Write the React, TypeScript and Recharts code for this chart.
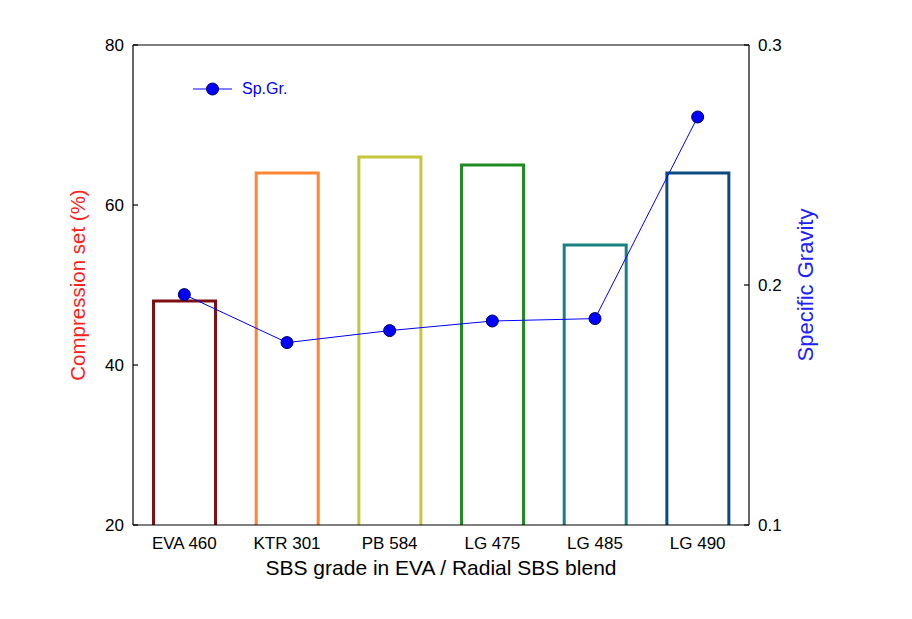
import React from 'react';
import { ComposedChart, Bar, Line, XAxis, YAxis, ReferenceLine, Label } from 'recharts';

const categories = ['EVA 460', 'KTR 301', 'PB 584', 'LG 475', 'LG 485', 'LG 490'];
const compressionSet = [48, 64, 66, 65, 55, 64];
const specificGravity = [0.196, 0.176, 0.181, 0.185, 0.186, 0.27];
const leftTicks = [20, 40, 60, 80];
const rightTicks = [0.1, 0.2, 0.3];

const barColors = ['#7d0f12', '#ff8533', '#c6c53c', '#1e8c22', '#1a8080', '#0d4a82'];

const data = categories.map((name, i) => ({
    name,
    cs: compressionSet[i],
    sg: specificGravity[i],
}));

const FONT = '"Liberation Sans", Arial, sans-serif';

const OpenBar = (props: any) => {
    const { x, y, width, height, index } = props;
    const color = barColors[index] ?? '#000';
    return (
        <path
            d={`M${x},${y + height} L${x},${y} L${x + width},${y} L${x + width},${y + height}`}
            fill="none"
            stroke={color}
            strokeWidth={3}
        />
    );
};

// ticks point inward, so draw the tick line ourselves
const LeftTick = (props: any) => {
    const { x, y, payload } = props;
    return (
        <g>
            <line x1={x + 9} y1={y} x2={x + 14} y2={y} stroke="#000" strokeWidth={1.2} />
            <text x={x} y={y} dy={6} textAnchor="end" fontSize={17} fontFamily={FONT} fill="#000">
                {payload.value}
            </text>
        </g>
    );
};

const RightTick = (props: any) => {
    const { x, y, payload } = props;
    return (
        <g>
            <line x1={x - 9} y1={y} x2={x - 14} y2={y} stroke="#000" strokeWidth={1.2} />
            <text x={x} y={y} dy={6} textAnchor="start" fontSize={17} fontFamily={FONT} fill="#000">
                {payload.value}
            </text>
        </g>
    );
};

const App = () => {
    return (
        <div style={{ position: 'absolute', left: 0, top: 0, width: 912, height: 619, background: '#fff' }}>
            <ComposedChart
                width={912}
                height={619}
                data={data}
                margin={{ top: 45, right: 51, left: 23, bottom: 8 }}
                barCategoryGap="20%"
            >
                <XAxis
                    dataKey="name"
                    height={86}
                    tickLine={false}
                    axisLine={{ stroke: '#000', strokeWidth: 1.2 }}
                    tickMargin={6}
                    tick={{ fontSize: 17, fontFamily: FONT, fill: '#000' }}
                    interval={0}
                >
                    <Label
                        value="SBS grade in EVA / Radial SBS blend"
                        position="center"
                        style={{ fontSize: 21, fontFamily: FONT, fill: '#000' }}
                    />
                </XAxis>
                <YAxis
                    yAxisId="left"
                    domain={[20, 80]}
                    ticks={leftTicks}
                    width={110}
                    tickSize={0}
                    tickMargin={9}
                    axisLine={{ stroke: '#000', strokeWidth: 1.2 }}
                    tickLine={false}
                    tick={<LeftTick />}
                    allowDataOverflow
                >
                    <Label
                        value="Compression set (%)"
                        angle={-90}
                        position="center"
                        style={{ fontSize: 20.5, fontFamily: FONT, fill: '#ff2020', textAnchor: 'middle' }}
                    />
                </YAxis>
                <YAxis
                    yAxisId="right"
                    orientation="right"
                    domain={[0.1, 0.3]}
                    ticks={rightTicks}
                    width={112}
                    tickSize={0}
                    tickMargin={9}
                    axisLine={{ stroke: '#000', strokeWidth: 1.2 }}
                    tickLine={false}
                    tick={<RightTick />}
                    allowDataOverflow
                >
                    <Label
                        value="Specific Gravity"
                        angle={-90}
                        position="center"
                        style={{ fontSize: 22, fontFamily: FONT, fill: '#2020ff', textAnchor: 'middle' }}
                    />
                </YAxis>
                <ReferenceLine yAxisId="left" y={80} stroke="#000" strokeWidth={1.2} />
                <Bar yAxisId="left" dataKey="cs" shape={<OpenBar />} isAnimationActive={false} />
                <Line
                    yAxisId="right"
                    dataKey="sg"
                    type="linear"
                    stroke="#0000ff"
                    strokeWidth={1}
                    dot={{ r: 6, fill: '#0000ff', stroke: '#000060', strokeWidth: 1 }}
                    activeDot={false}
                    isAnimationActive={false}
                />
            </ComposedChart>
            <div
                style={{
                    position: 'absolute',
                    left: 193,
                    top: 79,
                    display: 'flex',
                    alignItems: 'center',
                    fontFamily: FONT,
                    fontSize: 16,
                    color: '#0000ff',
                }}
            >
                <svg width={40} height={20}>
                    <line x1={0} y1={10} x2={39} y2={10} stroke="#0000ff" strokeWidth={1} />
                    <circle cx={19.5} cy={10} r={6} fill="#0000ff" stroke="#000060" strokeWidth={1} />
                </svg>
                <span style={{ marginLeft: 9 }}>Sp.Gr.</span>
            </div>
        </div>
    );
};

export default App;
